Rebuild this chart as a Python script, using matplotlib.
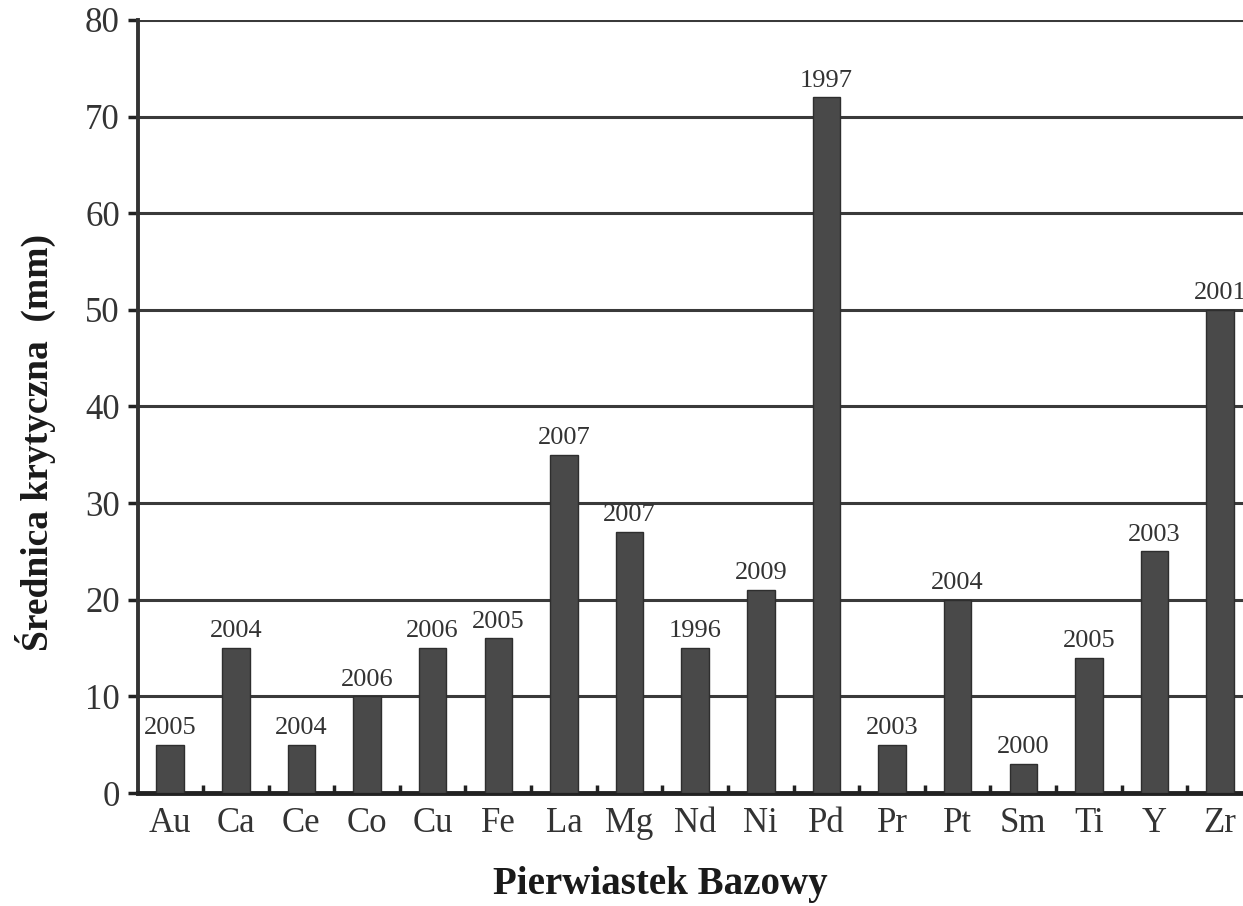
import matplotlib
matplotlib.use("Agg")
import matplotlib.pyplot as plt
import numpy as np

# Data
elements = ['Au', 'Ca', 'Ce', 'Co', 'Cu', 'Fe', 'La', 'Mg', 'Nd',
            'Ni', 'Pd', 'Pr', 'Pt', 'Sm', 'Ti', 'Y', 'Zr']
diameters = [5, 15, 5, 10, 15, 16, 35, 27, 15, 21, 72, 5, 20, 3, 14, 25, 50]
years = ['2005', '2004', '2004', '2006', '2006', '2005', '2007', '2007',
         '1996', '2009', '1997', '2003', '2004', '2000', '2005', '2003',
         '2001']
y_ticks = [0, 10, 20, 30, 40, 50, 60, 70, 80]

plt.rcParams['font.family'] = ['Liberation Serif', 'DejaVu Serif']

fig = plt.figure(figsize=(12.43, 9.06), dpi=100)
# right edge of the axes runs past the figure (chart is cropped in the original)
ax = fig.add_axes([138 / 1243, 113 / 906, 1115 / 1243, 773 / 906])

x = np.arange(len(elements))
ax.set_axisbelow(True)
ax.grid(axis='y', color='#3a3a3a', linewidth=2.2)
bars = ax.bar(x, diameters, width=0.42, color='#494949',
              edgecolor='#2e2e2e', linewidth=1.0, zorder=3)

# Year labels above bars
for xi, val, yr in zip(x, diameters, years):
    ax.text(xi, val + 0.6, yr, ha='center', va='bottom',
            fontsize=19, color='#333333', zorder=4)

ax.set_xlim(-0.49, len(elements) - 0.5)
ax.set_ylim(0, 80)
ax.set_yticks(y_ticks)
ax.set_xticks(x)
ax.set_xticklabels(elements)

# Small inward ticks between the bars
ax.set_xticks(x[:-1] + 0.5, minor=True)
ax.tick_params(axis='x', which='major', length=0, pad=10,
               labelsize=25, labelcolor='#333333')
ax.tick_params(axis='x', which='minor', direction='in', length=6,
               width=2.5, color='#222222')
ax.tick_params(axis='y', direction='out', length=7, width=2.5,
               color='#222222', labelsize=25, labelcolor='#333333', pad=6)

for side in ['top', 'right']:
    ax.spines[side].set_visible(False)
ax.spines['left'].set_linewidth(2.8)
ax.spines['left'].set_color('#333333')
ax.spines['bottom'].set_linewidth(3.5)
ax.spines['bottom'].set_color('#222222')

ax.set_xlabel('Pierwiastek Bazowy', fontsize=28, fontweight='bold',
              color='#1a1a1a', va='center')
ax.xaxis.set_label_coords(0.468, -0.119)
ax.set_ylabel('Średnica krytyczna  (mm)', fontsize=27, fontweight='bold',
              color='#1a1a1a', va='center')
ax.yaxis.set_label_coords(-0.092, 0.454)

fig.savefig('out.png', dpi=100)
